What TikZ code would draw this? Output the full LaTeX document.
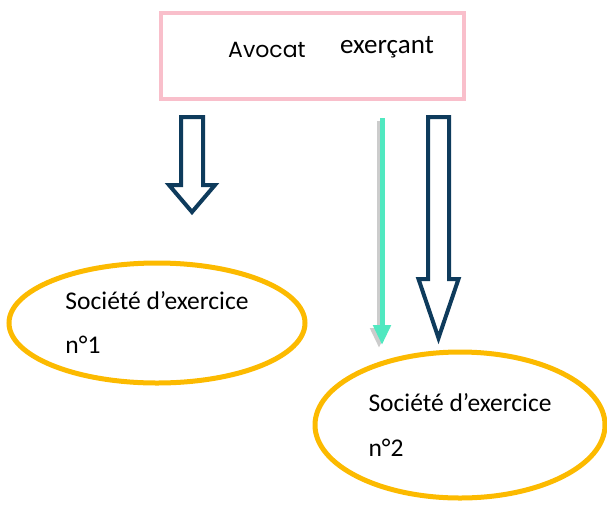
\documentclass[tikz,border=0pt]{standalone}
\usepackage{fontspec}
\setmainfont{Carlito}
\newfontfamily\titlefont{Poppins}
\usetikzlibrary{shapes.geometric,arrows.meta}
\definecolor{boxpink}{RGB}{249,191,203}
\definecolor{navyarrow}{RGB}{14,59,92}
\definecolor{tealarrow}{RGB}{80,232,192}
\definecolor{societyring}{RGB}{252,186,0}
\newcommand\hollowarrow[6]{%
% shaft and head as one outline
    \draw[navyarrow,line width=4pt,line join=miter,fill=white]
    (#1-#3,#5) -- (#1-#3,#2) -- (#1+#3,#2) -- (#1+#3,#5)
    -- (#1+#4,#5) -- (#1,#6) -- (#1-#4,#5) -- cycle;
    }
\tikzset{
    society/.style={ellipse,draw=societyring,line width=5pt,align=left,
        font=\fontsize{25.5}{44}\selectfont,inner sep=0pt},
}
\begin{document}
\begin{tikzpicture}[x=1pt,y=-1pt]
    \useasboundingbox (0,0) rectangle (607,504);
    % top box
    \node[draw=boxpink,line width=4pt,minimum width=303pt,minimum height=86pt] (avocat) at (312.5,56) {};
    \node[anchor=base west,font=\titlefont\fontsize{22}{24}\selectfont,inner sep=0pt] (avocatword) at (228,57) {Avocat};
    \node[anchor=base west,font=\fontsize{27}{30}\selectfont,inner sep=0pt] (exercant) at (340,53) {exerçant};

    % the two companies
    \node[society,minimum width=296pt,minimum height=120pt] (soc1) at (157,323) {Société d’exercice\\n°1};
    \node[society,minimum width=290pt,minimum height=146pt] (soc2) at (460,425) {Société d’exercice\\n°2};

    % hollow arrows
    \hollowarrow{192}{117}{11}{23}{185}{212}
    \hollowarrow{438.5}{117}{10.5}{20}{279}{338}

    % teal arrow with its shadow
    \draw[black!20,line width=5pt,-{Triangle[width=17pt,length=20pt]}] (379,121) -- (379,348);
    \draw[tealarrow,line width=5pt,-{Triangle[width=17pt,length=20pt]}] (382,118) -- (382,345);
\end{tikzpicture}
\end{document}
